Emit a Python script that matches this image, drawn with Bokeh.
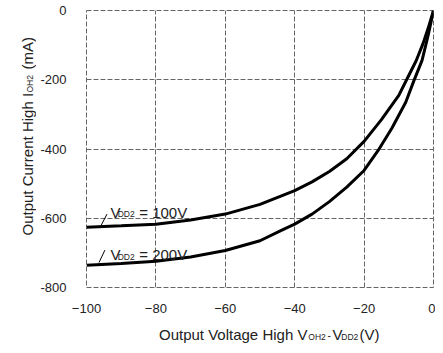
import math
from bokeh.plotting import figure
from bokeh.layouts import row, column
from bokeh.models import Range1d, FixedTicker, Label
from bokeh.core.properties import value
from bokeh.embed import file_html
from bokeh.resources import INLINE

# ---- data ----
x_ticks = [-100, -80, -60, -40, -20, 0]
x_tick_labels = ["\u2212100", "\u221280", "\u221260", "\u221240", "\u221220", "0"]
y_ticks = [0, -200, -400, -600, -800]
y_tick_labels = ["0", "-200", "-400", "-600", "-800"]

v100_x = [-100, -90, -80, -70, -60, -50, -44, -40, -35, -30, -25, -20, -15, -10, -8, -5, -3, -1.5, 0]
v100_y = [-626, -622, -617, -605, -588, -560, -536, -520, -495, -465, -428, -378, -315, -245, -205, -145, -95, -50, 0]

v200_x = [-100, -90, -80, -70, -60, -50, -44, -40, -35, -30, -25, -20, -16, -12, -8, -5.7, -3.3, -1.5, 0]
v200_y = [-736, -731, -724, -712, -693, -665, -636, -617, -588, -552, -510, -462, -405, -340, -265, -204, -144, -70, 0]

series_names = ["100V", "200V"]

# annotation leader lines (data coords)
lead100_x = [-95.8, -94.1]
lead100_y = [-621, -588]
lead200_x = [-96.4, -94.7]
lead200_y = [-728, -692]

FONT = "Liberation Sans"
TXT = "#222222"
W, H = 435, 350
LW = 36          # width of the y-title strip
MAIN_H = 318     # height of the main figure

# ---------------- main chart ----------------
p = figure(width=W - LW, height=MAIN_H, output_backend="svg", toolbar_location=None,
           x_range=Range1d(-100, 0), y_range=Range1d(-800, 0),
           min_border_left=86 - LW, min_border_right=2, min_border_top=10,
           min_border_bottom=MAIN_H - 287)
p.background_fill_color = "white"
p.border_fill_color = "white"
p.outline_line_color = "#666666"
p.outline_line_dash = "5 2"
p.outline_line_width = 1

for g in (p.xgrid[0], p.ygrid[0]):
    g.grid_line_color = "#666666"
    g.grid_line_dash = "5 2"
    g.grid_line_width = 1

p.xaxis.ticker = FixedTicker(ticks=x_ticks)
p.yaxis.ticker = FixedTicker(ticks=y_ticks)
p.xaxis.major_label_overrides = {t: l for t, l in zip(x_ticks, x_tick_labels)}
p.yaxis.major_label_overrides = {t: l for t, l in zip(y_ticks, y_tick_labels)}
for ax in (p.xaxis[0], p.yaxis[0]):
    ax.axis_line_color = None
    ax.major_tick_line_color = None
    ax.minor_tick_line_color = None
    ax.major_label_text_font = FONT
    ax.major_label_text_font_size = "13px"
    ax.major_label_text_color = TXT
p.xaxis.major_label_standoff = 10
p.yaxis.major_label_standoff = 14

p.line(v100_x, v100_y, line_color="black", line_width=3)
p.line(v200_x, v200_y, line_color="black", line_width=3)
p.line(lead100_x, lead100_y, line_color="black", line_width=1)
p.line(lead200_x, lead200_y, line_color="black", line_width=1)

def lab(x, y, text, size):
    p.add_layout(Label(x=x, y=y, text=text, text_font=FONT, text_font_size=size,
                       text_color=TXT, text_align="left", text_baseline="alphabetic"))

for base, val in ((-582, series_names[0]), (-706, series_names[1])):
    lab(-93.1, base, "V", "15px")
    lab(-91.0, base - 6, "DD2", "8.5px")
    lab(-84.8, base, "= " + val, "15px")

# ---------------- strips holding the axis titles ----------------
def strip(w, h, x0, y0):
    f = figure(width=w, height=h, output_backend="svg", toolbar_location=None,
               x_range=Range1d(x0, x0 + w), y_range=Range1d(y0 + h, y0),
               min_border=0, x_axis_type=None, y_axis_type=None)
    f.grid.visible = False
    f.outline_line_color = None
    f.background_fill_color = "white"
    f.border_fill_color = "white"
    return f

def put(f, x, y, text, size, angle=0.0, align="left"):
    f.text(x=[x], y=[y], text=[text], text_font=value(FONT), text_font_size=value(size),
           text_color=TXT, text_align=align, text_baseline="alphabetic", angle=angle)

# x title: coordinates are canvas pixels
B = strip(W - LW, H - MAIN_H, LW, MAIN_H)
xb = 334
put(B, 290, xb, "Output Voltage High V", "15px", align="right")
put(B, 291, xb + 2, "OH2", "8.5px")
put(B, 313, xb, "-", "10px")
put(B, 319, xb, "V", "15px")
put(B, 329, xb + 2, "DD2", "8.5px")
put(B, 350, xb, "(V)", "15px")

# y title (rotated)
L = strip(LW, H, 0, 0)
a = math.pi / 2
put(L, 27, 235, "Output Current High I", "15px", angle=a)
put(L, 29, 92, "OH2", "8.5px", angle=a)
put(L, 27, 69, "(mA)", "15px", angle=a)

layout = row(L, column(p, B))
open("out.html", "w").write(file_html(layout, INLINE))
